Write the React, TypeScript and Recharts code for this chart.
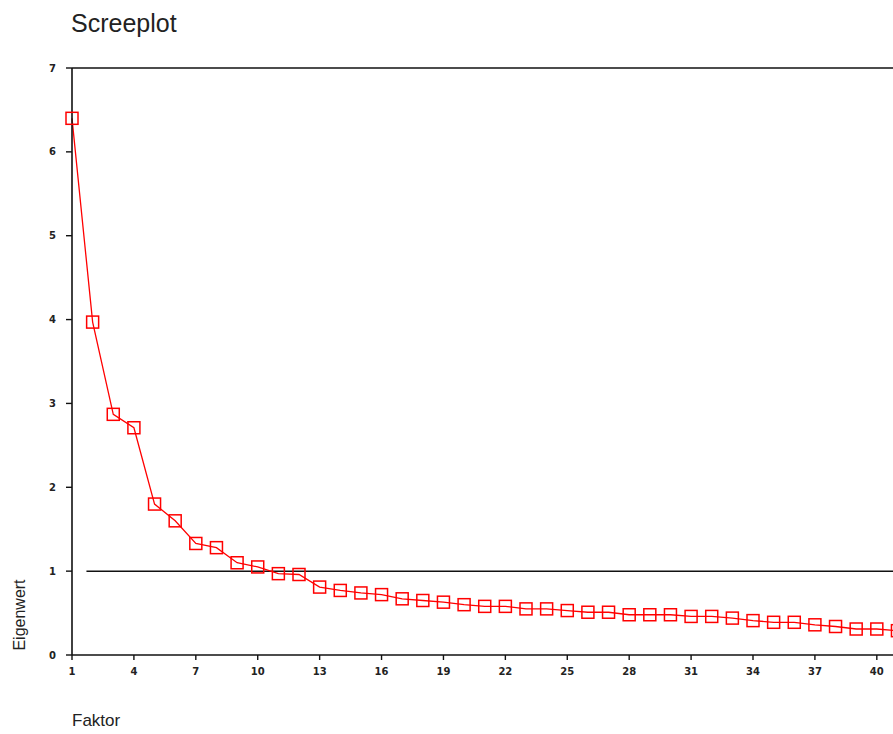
import React from "react";
import {
  LineChart,
  Line,
  XAxis,
  YAxis,
  ReferenceLine,
} from "recharts";

// Scree plot: eigenvalue per factor (SPSS style)
const factors: number[] = Array.from({ length: 41 }, (_, i) => i + 1);
const eigenvalues: number[] = [
  6.4, 3.97, 2.87, 2.71, 1.8, 1.6, 1.33, 1.28, 1.1, 1.05,
  0.97, 0.96, 0.81, 0.77, 0.74, 0.72, 0.67, 0.65, 0.63, 0.6,
  0.58, 0.58, 0.55, 0.55, 0.53, 0.51, 0.51, 0.48, 0.48, 0.48,
  0.46, 0.46, 0.44, 0.41, 0.39, 0.39, 0.36, 0.34, 0.31, 0.31,
  0.29,
];
const xTicks: number[] = [1, 4, 7, 10, 13, 16, 19, 22, 25, 28, 31, 34, 37, 40];
const yTicks: number[] = [0, 1, 2, 3, 4, 5, 6, 7];
const kaiserLevel = 1;

const data = factors.map((f, i) => ({ factor: f, value: eigenvalues[i] }));

const tickStyle = {
  fontSize: 10,
  fontWeight: 700,
  fill: "#222",
  fontFamily: "DejaVu Sans, sans-serif",
};

// hollow square marker, positioned by recharts
const SquareDot = (props: any) => {
  const { cx, cy, index } = props;
  if (cx == null || cy == null) return null;
  return (
    <rect
      key={`sq-${index}`}
      x={cx - 6}
      y={cy - 6}
      width={12}
      height={12}
      fill="none"
      stroke="#ff0000"
      strokeWidth={1.5}
    />
  );
};

export default function App() {
  return (
    <div
      style={{
        position: "fixed",
        left: 0,
        top: 0,
        width: 893,
        height: 734,
        overflow: "hidden",
        background: "#fff",
        fontFamily: "Liberation Sans, Arial, sans-serif",
      }}
    >
      <div
        style={{
          position: "absolute",
          left: 71,
          top: 9,
          fontSize: 25,
          color: "#222",
        }}
      >
        Screeplot
      </div>
      <div
        style={{
          position: "absolute",
          left: 20,
          top: 615,
          fontSize: 16,
          color: "#222",
          transform: "translate(-50%, -50%) rotate(-90deg)",
          whiteSpace: "nowrap",
        }}
      >
        Eigenwert
      </div>
      <div
        style={{
          position: "absolute",
          left: 72,
          top: 711,
          fontSize: 17,
          color: "#222",
        }}
      >
        Faktor
      </div>

      <div style={{ position: "absolute", left: 0, top: 0 }}>
        <LineChart
          width={980}
          height={734}
          data={data}
          margin={{ top: 68, right: 0, left: 0, bottom: 0 }}
        >
          <XAxis
            dataKey="factor"
            type="number"
            domain={[1, 45]}
            ticks={xTicks}
            interval={0}
            height={79}
            tick={tickStyle}
            tickSize={5}
            tickMargin={8}
            axisLine={{ stroke: "#111", strokeWidth: 1.6 }}
            tickLine={{ stroke: "#111", strokeWidth: 1.4 }}
          />
          <YAxis
            type="number"
            domain={[0, 7]}
            ticks={yTicks}
            interval={0}
            width={72}
            tick={tickStyle}
            tickSize={6}
            tickMargin={10}
            axisLine={{ stroke: "#111", strokeWidth: 1.6 }}
            tickLine={{ stroke: "#111", strokeWidth: 1.4 }}
          />
          <ReferenceLine y={7} stroke="#111" strokeWidth={1.6} />
          <ReferenceLine
            segment={[
              { x: 1.7, y: kaiserLevel },
              { x: 45, y: kaiserLevel },
            ]}
            stroke="#111"
            strokeWidth={1.5}
          />
          <Line
            type="linear"
            dataKey="value"
            stroke="#ff0000"
            strokeWidth={1.3}
            dot={<SquareDot />}
            activeDot={false}
            isAnimationActive={false}
          />
        </LineChart>
      </div>
    </div>
  );
}
